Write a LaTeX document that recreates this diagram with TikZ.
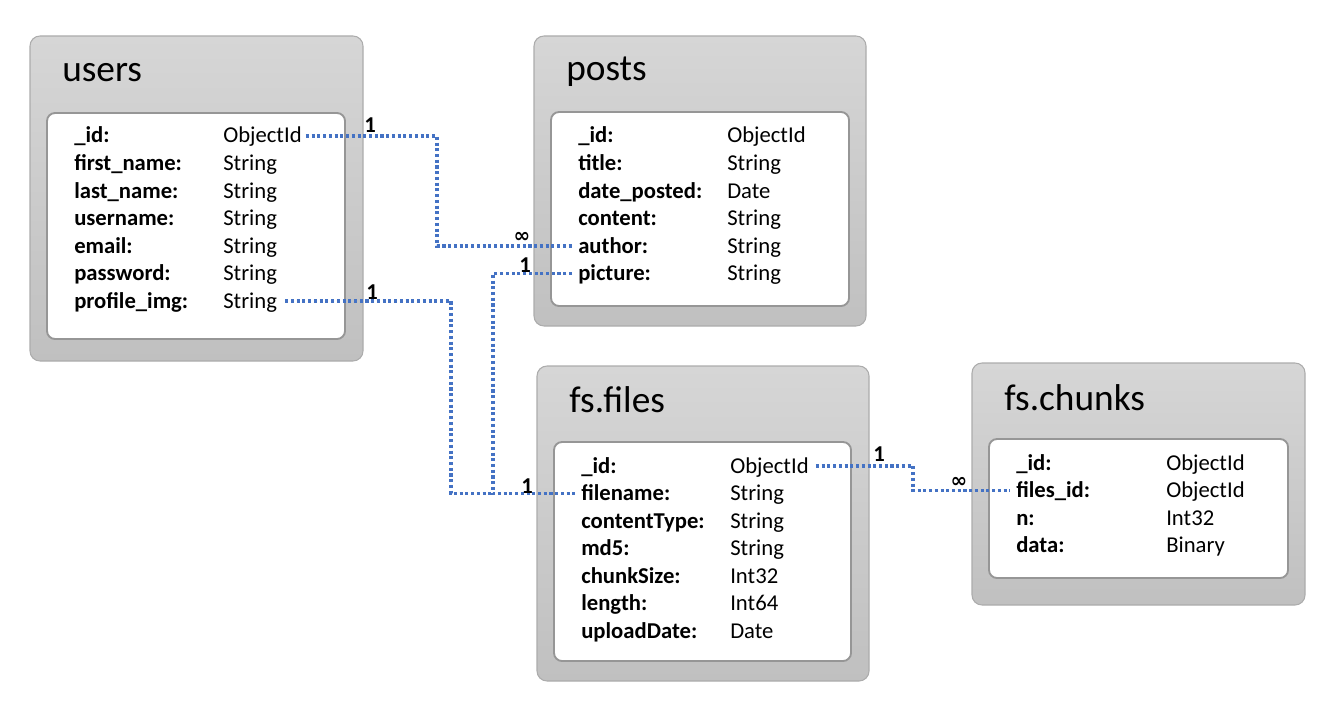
\documentclass[tikz,border=0pt]{standalone}
\usepackage{fontspec}
\setmainfont{Carlito}
\newfontfamily\glyphfont{DejaVu Sans}
\usetikzlibrary{calc,fit}
\definecolor{boxtop}{RGB}{214,214,214}
\definecolor{boxbot}{RGB}{192,192,192}
\definecolor{boxline}{RGB}{172,172,172}
\definecolor{innerline}{RGB}{150,150,150}
\definecolor{linkblue}{RGB}{68,114,196}
\begin{document}
\begin{tikzpicture}[x=0.75pt,y=-0.75pt,
  outerbox/.style={draw=boxline, line width=0.8pt, rounded corners=7.5pt,
    top color=boxtop, bottom color=boxbot, inner sep=0pt},
  innerbox/.style={draw=innerline, line width=1.4pt, fill=white,
    rounded corners=6pt, inner sep=0pt},
  titletext/.style={anchor=base west, inner sep=0pt, font=\fontsize{28}{30}\selectfont},
  fname/.style={anchor=base west, inner sep=0pt, font=\fontsize{17}{19}\selectfont\bfseries},
  ftype/.style={anchor=base west, inner sep=0pt, font=\fontsize{17}{19}\selectfont},
  relline/.style={draw=linkblue, line width=2.3pt, dash pattern=on 2.3pt off 2pt},
  cardone/.style={font=\fontsize{17}{18}\selectfont\bfseries, inner sep=0pt},
  cardmany/.style={font=\glyphfont\bfseries\fontsize{15}{15}\selectfont, inner sep=0pt}]
\useasboundingbox (0,0) rectangle (1327,706);

% ---- users ----
\node[outerbox, fit={(30,36) (363,361)}] (users) {};
\node[innerbox, fit={(47,113) (345,339)}] (users-in) {};
\node[titletext] (users-title) at (62,82) {users};
\foreach \n/\t [count=\i from 0] in {\_id:/ObjectId, first\_name:/String,
    last\_name:/String, username:/String, email:/String, password:/String,
    profile\_img:/String} {
  \node[fname] (users-\i-n) at (74,{143+27.5*\i}) {\n};
  \node[ftype] (users-\i-t) at (223,{143+27.5*\i}) {\t};
}

% ---- posts ----
\node[outerbox, fit={(534,36) (866,326)}] (posts) {};
\node[innerbox, fit={(551,112) (849,306)}] (posts-in) {};
\node[titletext] (posts-title) at (566,81) {posts};
\foreach \n/\t [count=\i from 0] in {\_id:/ObjectId, title:/String,
    date\_posted:/Date, content:/String, author:/String, picture:/String} {
  \node[fname] (posts-\i-n) at (578,{143+27.5*\i}) {\n};
  \node[ftype] (posts-\i-t) at (727,{143+27.5*\i}) {\t};
}

% ---- fs.files ----
\node[outerbox, fit={(537,366) (869,681)}] (files) {};
\node[innerbox, fit={(554,442) (851,661)}] (files-in) {};
\node[titletext] (files-title) at (569,412) {fs.files};
\foreach \n/\t [count=\i from 0] in {\_id:/ObjectId, filename:/String,
    contentType:/String, md5:/String, chunkSize:/Int32, length:/Int64,
    uploadDate:/Date} {
  \node[fname] (files-\i-n) at (581,{473+27.5*\i}) {\n};
  \node[ftype] (files-\i-t) at (730,{473+27.5*\i}) {\t};
}

% ---- fs.chunks ----
\node[outerbox, fit={(972,363) (1305,605)}] (chunks) {};
\node[innerbox, fit={(989,439) (1288,578)}] (chunks-in) {};
\node[titletext] (chunks-title) at (1004,410) {fs.chunks};
\foreach \n/\t [count=\i from 0] in {\_id:/ObjectId, files\_id:/ObjectId,
    n:/Int32, data:/Binary} {
  \node[fname] (chunks-\i-n) at (1016,{470+27.5*\i}) {\n};
  \node[ftype] (chunks-\i-t) at (1166,{470+27.5*\i}) {\t};
}

% ---- relations ----
\coordinate (v1) at (437,0);
\coordinate (v2) at (493,0);
\coordinate (v3) at (451,0);
\coordinate (v4) at (913,0);

\coordinate (a1) at ($(users-0-t.base east)+(4,-7)$);
\coordinate (b1) at ($(posts-4-n.base west)+(-6,-7)$);
\coordinate (a2) at ($(posts-5-n.base west)+(-6,-7)$);
\coordinate (b2) at ($(files-1-n.base west)+(-6,-7)$);
\coordinate (a3) at ($(users-6-t.base east)+(8,-7)$);
\coordinate (a4) at ($(files-0-t.base east)+(7,-7)$);
\coordinate (b4) at ($(chunks-1-n.base west)+(-6,-7)$);

\draw[relline] (a1) -- (a1 -| v1) |- (b1);
\draw[relline] (a2) -- (a2 -| v2) |- (b2);
\draw[relline] (a3) -- (a3 -| v3) |- (b2 -| v2);
\draw[relline] (a4) -- (a4 -| v4) |- (b4);

% cardinalities
\node[cardone]  (c1) at (370,125) {1};
\node[cardmany] (c2) at (522,237) {∞};
\node[cardone]  (c3) at (525,265) {1};
\node[cardone]  (c4) at (372,292) {1};
\node[cardone]  (c5) at (527,486) {1};
\node[cardone]  (c6) at (879,454) {1};
\node[cardmany] (c7) at (959,482) {∞};
\end{tikzpicture}
\end{document}
